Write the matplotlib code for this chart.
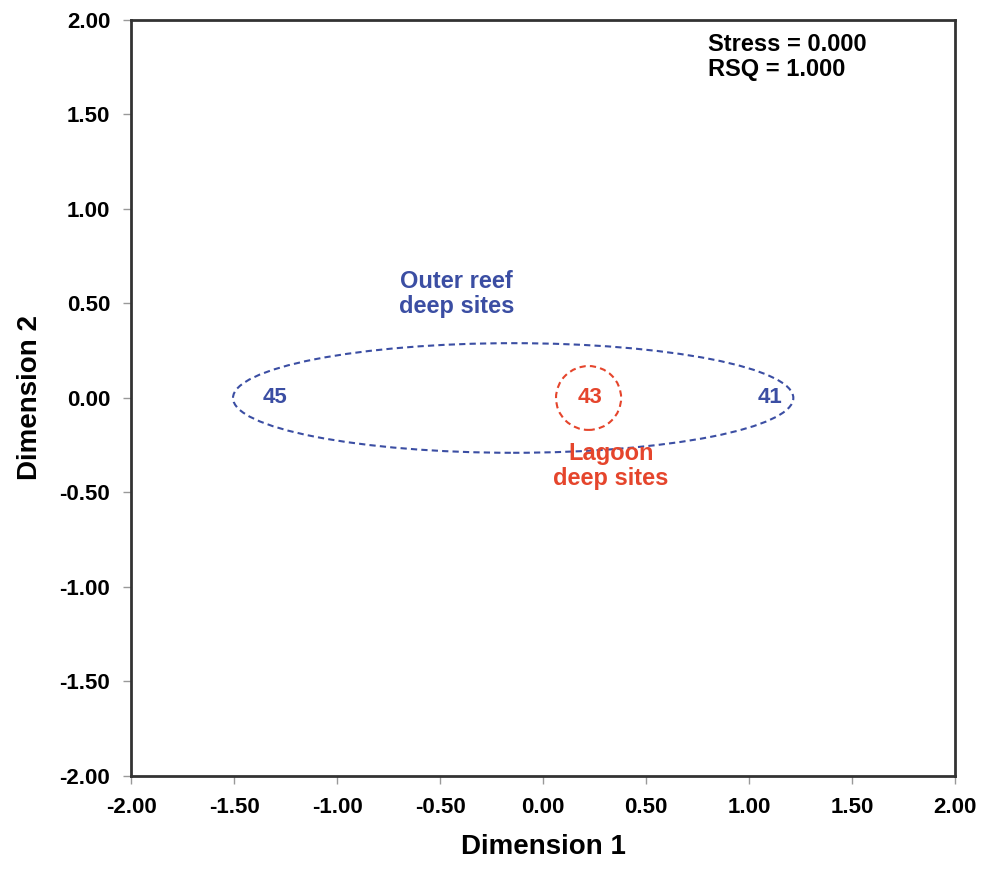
import matplotlib.pyplot as plt
from matplotlib.patches import Ellipse

# MDS site coordinates
sites = ["45", "43", "41"]
dim1 = [-1.30, 0.23, 1.10]
dim2 = [0.0, 0.0, 0.0]
site_group = ["outer", "lagoon", "outer"]

ticks = [-2.0, -1.5, -1.0, -0.5, 0.0, 0.5, 1.0, 1.5, 2.0]
tick_labels = ["%.2f" % t for t in ticks]

stress = 0.000
rsq = 1.000

blue = "#3b4ea3"
red = "#e5452c"
colors = {"outer": blue, "lagoon": red}

plt.rcParams["font.family"] = ["Liberation Sans", "DejaVu Sans"]

fig = plt.figure(figsize=(9.86, 8.77), dpi=100)
ax = fig.add_axes([0.1329, 0.1152, 0.8357, 0.862])

for s, x, y, g in zip(sites, dim1, dim2, site_group):
    ax.text(x, y, s, color=colors[g], fontsize=16, fontweight="bold",
            ha="center", va="center")

# group outlines
ax.add_patch(Ellipse((-0.145, 0.0), 2.72, 0.58, fill=False, edgecolor=blue,
                     linestyle=(0, (3, 2)), linewidth=1.5))
ax.add_patch(Ellipse((0.221, 0.0), 0.316, 0.338, fill=False, edgecolor=red,
                     linestyle=(0, (3, 2)), linewidth=1.5))

ax.text(-0.42, 0.55, "Outer reef\ndeep sites", color=blue, fontsize=17,
        fontweight="bold", ha="center", va="center", linespacing=1.1)
ax.text(0.33, -0.36, "Lagoon\ndeep sites", color=red, fontsize=17,
        fontweight="bold", ha="center", va="center", linespacing=1.1)

ax.text(0.80, 1.93, "Stress = %.3f\nRSQ = %.3f" % (stress, rsq),
        fontsize=17, fontweight="bold", ha="left", va="top", linespacing=1.1)

ax.set_xlim(-2, 2)
ax.set_ylim(-2, 2)
ax.set_xticks(ticks)
ax.set_yticks(ticks)
ax.set_xticklabels(tick_labels, fontsize=16, fontweight="bold")
ax.set_yticklabels(tick_labels, fontsize=16, fontweight="bold")
ax.tick_params(direction="out", length=6, width=1, color="#999999", pad=9)

ax.set_xlabel("Dimension 1", fontsize=20, fontweight="bold", labelpad=12)
ax.set_ylabel("Dimension 2", fontsize=20, fontweight="bold", labelpad=12)

for sp in ax.spines.values():
    sp.set_linewidth(2)
    sp.set_color("#333333")

fig.savefig("out.png", dpi=100)
